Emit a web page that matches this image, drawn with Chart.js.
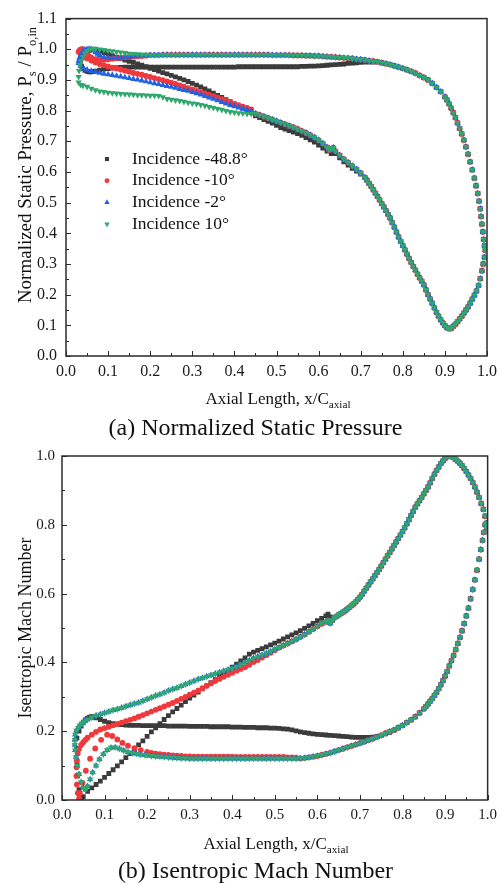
<!DOCTYPE html>
<html>
<head>
<meta charset="utf-8">
<script src="https://cdn.jsdelivr.net/npm/chart.js@4.4.1/dist/chart.umd.min.js"></script>
<style>
  body { margin: 0; background: #fff; }
  #page { position: relative; width: 503px; height: 883px; overflow: hidden; background: #fff; }
  canvas { position: absolute; left: 0; }
  .caption { position: absolute; left: 4px; width: 503px; text-align: center; font: 24px "Liberation Serif", serif; color: #111; line-height: 28px; }
</style>
</head>
<body>
<div id="page">
  <canvas id="pressure" width="503" height="440" style="top:0"></canvas>
  <canvas id="mach" width="503" height="443" style="top:440px"></canvas>
  <div class="caption" style="top:413px">(a) Normalized Static Pressure</div>
  <div class="caption" style="top:856px">(b) Isentropic Mach Number</div>
</div>
<script>
// sampling positions along x/C_axial, every 0.01
const X_STEP = [0.10,0.11,0.12,0.13,0.14,0.15,0.16,0.17,0.18,0.19,
  0.20,0.21,0.22,0.23,0.24,0.25,0.26,0.27,0.28,0.29,
  0.30,0.31,0.32,0.33,0.34,0.35,0.36,0.37,0.38,0.39,
  0.40,0.41,0.42,0.43,0.44,0.45,0.46,0.47,0.48,0.49,
  0.50,0.51,0.52,0.53,0.54,0.55,0.56,0.57,0.58,0.59,
  0.60,0.61,0.62,0.63,0.64,0.65,0.66,0.67,0.68,0.69,
  0.70,0.71,0.72,0.73,0.74,0.75,0.76,0.77,0.78,0.79,
  0.80,0.81,0.82,0.83,0.84,0.85,0.86,0.87,0.88,0.89,0.90];
const grid = (a, b) => X_STEP.filter(x => x >= a - 1e-9 && x <= b + 1e-9);

const LABELS = ['Incidence -48.8°', 'Incidence -10°', 'Incidence -2°', 'Incidence 10°'];

// ---------- (a) static pressure, Ps / Po,in ----------
// pressure side, shared by -10, -2 and 10 deg from x = 0.20
const PS_AFT_X = [...grid(0.20, 0.90), 0.905,0.91,0.915,0.92,0.925,0.93,0.935,0.94,0.945,0.95,0.955,0.96,0.965,0.97,0.974,0.978,0.981,0.984,0.986,0.988,0.990,0.992,0.994,0.996];
const PS_AFT_Y = [.981,.981,.981,.982,.982,.982,.982,.982,.982,.982,
  .982,.982,.982,.982,.982,.982,.982,.982,.982,.982,
  .982,.982,.982,.982,.982,.982,.982,.982,.982,.981,
  .981,.981,.981,.981,.980,.980,.980,.979,.979,.978,
  .978,.977,.976,.975,.974,.973,.972,.971,.970,.968,
  .967,.965,.963,.961,.959,.956,.953,.950,.946,.942,
  .938,.933,.928,.922,.915,.908,.900,.889,.876,.862,
  .845,.835,.822,.808,.793,.777,.760,.742,.724,.704,.682,.658,.633,.607,.580,.555,.530,.505,.480,.455,.430,.405,.380,.360,.345];
// suction side middle, shared by -10, -2 and 10 deg
const SS_MID_X = [0.45,0.46,0.47,0.48,0.49,0.50,0.51,0.52,0.53,0.54,0.55,0.56,0.57,0.58,0.59,0.60,0.61,0.62,0.625,0.63,0.635,0.64,0.65,0.66,0.67,0.68,0.69,0.70];
const SS_MID_Y = [.790,.786,.781,.776,.771,.766,.761,.756,.751,.746,.740,.734,.728,.721,.713,.704,.693,.681,.672,.675,.679,.668,.655,.642,.631,.620,.609,.597];
// suction side rear part, shared by all four
const SS_AFT_X = [0.71,0.715,0.72,0.725,0.73,0.735,0.74,0.745,0.75,0.755,0.76,0.765,0.77,0.775,0.78,0.785,0.79,0.795,
  0.80,0.805,0.81,0.815,0.82,0.825,0.83,0.835,0.84,0.845,0.85,0.855,0.86,0.865,0.87,0.875,0.88,0.885,0.89,0.895,
  0.90,0.905,0.91,0.915,0.92,0.925,0.93,0.935,0.94,0.945,0.95,0.955,0.96,0.965,0.97,0.975,0.98,0.984,0.988,0.991,0.994,0.997,0.999];
const SS_AFT_Y = [.582,.573,.563,.553,.542,.531,.520,.509,.497,.486,.474,.462,.450,.435,.420,.404,.388,.374,
  .360,.346,.332,.318,.305,.292,.280,.267,.255,.244,.232,.216,.200,.186,.172,.157,.142,.130,.118,.108,
  .099,.092,.089,.090,.097,.104,.112,.121,.130,.140,.150,.160,.172,.185,.198,.212,.230,.252,.278,.300,.322,.345,.360];

const BK_PS_X = [0.033,0.037,0.040,0.045,0.050,0.055,0.060,0.065,0.070,0.080,0.090, ...grid(0.10, 0.73)];
const BK_PS_Y = [.955,.945,.937,.931,.928,.926,.926,.927,.929,.932,.935,
  .937,.939,.940,.941,.942,.942,.942,.942,.942,.942,
  .942,.942,.942,.942,.942,.942,.942,.942,.942,.942,
  .942,.942,.942,.942,.942,.942,.942,.942,.942,.942,
  .942,.943,.943,.943,.943,.943,.943,.943,.943,.943,
  .943,.943,.943,.943,.943,.943,.944,.944,.945,.945,
  .946,.947,.948,.949,.950,.951,.952,.954,.955,.956,
  .957,.958,.958,.958];
const BK_SS_X = [0.035,0.040,0.045,0.050,0.055,0.060,0.070,0.080,0.090, ...grid(0.10, 0.63), 0.635,0.64,0.65,0.66,0.67,0.68,0.69,0.70];
const BK_SS_Y = [.965,.975,.985,.992,.996,.998,.998,.994,.989,
  .984,.979,.974,.970,.965,.961,.957,.952,.948,.943,
  .938,.934,.929,.924,.920,.915,.910,.905,.900,.895,
  .889,.883,.877,.871,.864,.857,.850,.843,.836,.829,
  .822,.815,.808,.801,.794,.783,.777,.771,.765,.759,
  .752,.745,.740,.735,.730,.725,.719,.712,.705,.697,
  .688,.678,.668,.660,
  .666,.660,.646,.633,.622,.612,.603,.593];

const RD_PS_X = [0.030,0.033,0.037,0.040,0.045,0.050,0.055,0.060,0.070,0.080,0.090, ...grid(0.10, 0.19)];
const RD_PS_Y = [.992,.998,1.0,1.0,.991,.983,.977,.973,.968,.966,.966, .967,.969,.971,.972,.974,.975,.976,.977,.978,.979];
const RD_SS_X = [0.032,0.035,0.040,0.050,0.060,0.070,0.080,0.090, ...grid(0.10, 0.44)];
const RD_SS_Y = [.990,.985,.978,.970,.963,.957,.952,.948,
  .944,.940,.937,.934,.930,.927,.923,.920,.917,.913,
  .910,.906,.903,.899,.895,.891,.887,.882,.878,.873,
  .869,.864,.860,.856,.851,.847,.842,.837,.832,.827,
  .822,.818,.813,.809,.804];

const BL_PS_X = [0.030,0.032,0.035,0.040,0.045,0.050,0.055,0.060,0.065,0.070,0.075,0.080,0.090, ...grid(0.10, 0.19)];
const BL_PS_Y = [.962,.972,.982,.992,.998,1.0,1.001,1.0,.996,.990,.985,.981,.975, .972,.971,.972,.973,.975,.976,.977,.978,.979,.980];
const BL_SS_X = [0.030,0.035,0.040,0.050,0.060,0.070,0.080,0.090, ...grid(0.10, 0.44)];
const BL_SS_Y = [.955,.945,.938,.933,.929,.926,.923,.920,
  .918,.916,.913,.911,.908,.906,.903,.901,.898,.895,
  .892,.889,.886,.883,.880,.877,.874,.870,.867,.864,
  .860,.856,.852,.847,.842,.838,.833,.828,.823,.818,
  .814,.810,.806,.802,.798];

const GN_PS_X = [0.033,0.036,0.040,0.045,0.050,0.057,0.065,0.070,0.080,0.090, ...grid(0.10, 0.19)];
const GN_PS_Y = [.949,.962,.975,.987,.995,1.0,1.002,1.002,1.0,.998, .996,.994,.992,.990,.988,.986,.985,.984,.983,.983];
const GN_SS_X = [0.031,0.030,0.030,0.035,0.040,0.050,0.060,0.070,0.080,0.090, ...grid(0.10, 0.44)];
const GN_SS_Y = [.930,.910,.892,.884,.882,.878,.872,.867,.863,.861,
  .859,.857,.856,.855,.854,.853,.852,.851,.851,.850,
  .849,.849,.848,.844,.838,.836,.834,.832,.829,.826,
  .824,.822,.819,.816,.812,.809,.806,.803,.799,.796,
  .794,.792,.791,.790,.790];

// ---------- (b) isentropic Mach number ----------
const MA_SS_AFT_X = [...grid(0.45, 0.62), 0.625,0.63,0.635,
  0.64,0.645,0.65,0.655,0.66,0.665,0.67,0.675,0.68,0.685,0.69,0.695,
  0.70,0.705,0.71,0.715,0.72,0.725,0.73,0.735,0.74,0.745,0.75,0.755,0.76,0.765,0.77,0.775,0.78,0.785,0.79,0.795,
  0.80,0.805,0.81,0.815,0.82,0.825,0.83,0.835,0.84,0.845,0.85,0.855,0.86,0.865,0.87,0.875,0.88,0.885,0.89,0.895,
  0.90,0.905,0.91,0.915,0.92,0.925,0.93,0.935,0.94,0.945,0.95,0.955,0.96,0.965,0.97,0.975,0.98,0.985,0.99,0.994,0.997,0.999];
const MA_SS_AFT_Y = [.412,.417,.422,.427,.432,
  .438,.443,.449,.455,.461,.467,.474,.481,.489,.497,
  .505,.512,.518, .522,.514,.522,
  .530,.534,.538,.542,.546,.550,.555,.560,.565,.570,.576,.583,
  .590,.598,.607,.616,.625,.634,.643,.652,.661,.670,.680,.690,.700,.710,.720,.730,.740,.750,.760,.770,
  .780,.791,.803,.815,.827,.839,.851,.861,.870,.880,.890,.900,.910,.922,.935,.947,.958,.968,.978,.986,
  .993,.998,1.0,.998,.995,.990,.985,.979,.972,.964,.955,.945,.935,.923,.910,.895,.880,.862,.845,.825,.805,.790];
const MA_PS_AFT_X = [...grid(0.20, 0.85), 0.855,0.86,0.865,0.87,0.875,0.88,0.885,0.89,0.895,
  0.90,0.905,0.91,0.915,0.92,0.925,0.93,0.935,0.94,0.945,0.95,0.955,0.96,0.965,0.97,0.975,0.98,0.984,0.988,0.991,0.994];
const MA_PS_AFT_Y = [.130,.128,.127,.126,.125,.124,.123,.122,.121,.121,
  .120,.120,.120,.120,.120,.120,.120,.120,.120,.120,
  .120,.120,.120,.120,.120,.120,.120,.120,.120,.120,
  .120,.120,.120,.120,.120,.120,.121,.122,.124,.126,
  .128,.131,.134,.137,.141,.145,.149,.153,.157,.161,
  .165,.169,.174,.178,.183,.188,.194,.199,.203,.210,
  .217,.225,.233,.242,.253,.265, .272,.279,.287,.295,.304,.313,.324,.335,.347,
  .360,.374,.390,.405,.420,.437,.455,.473,.492,.513,.535,.558,.585,.612,.640,.668,.700,.728,.755,.778,.800];

const BK_MA_PS_X = [0.040,0.037,0.035,0.034,0.035,0.040,0.045,0.050,0.055,0.060,0.065,0.070,0.075,0.080,0.090, ...grid(0.10, 0.77)];
const BK_MA_PS_Y = [.030,.070,.110,.150,.180,.200,.215,.225,.233,.238,.241,.242,.241,.239,.234,
  .229,.225,.222,.220,.219,.218,.217,.217,.217,.216,
  .216,.216,.216,.216,.216,.215,.215,.215,.215,.215,
  .214,.214,.214,.214,.214,.213,.213,.213,.213,.213,
  .212,.212,.212,.211,.211,.211,.210,.210,.210,.209,
  .209,.208,.207,.206,.204,.201,.198,.196,.194,.192,
  .191,.190,.189,.188,.187,.186,.185,.184,.183,.182,
  .182,.182,.182,.183,.185,.188,.192,.197];
const BK_MA_SS_X = [0.042,0.045,0.050,0.060,0.070,0.080,0.090, ...grid(0.10, 0.62), 0.625,0.63,0.635];
const BK_MA_SS_Y = [.000,.003,.010,.025,.035,.045,.055,
  .066,.077,.088,.099,.111,.123,.135,.147,.160,.172,
  .185,.198,.210,.222,.234,.245,.256,.266,.276,.286,
  .296,.305,.314,.323,.332,.341,.350,.359,.368,.377,
  .386,.395,.404,.413,.424,.430,.435,.440,.445,.451,
  .456,.462,.468,.474,.480,.486,.492,.499,.506,.513,
  .521,.528,.535, .540,.532,.528];

const RD_MA_PS_X = [0.042,0.048,0.056,0.066,0.078,0.092,0.106,0.118,0.130,0.142,0.155,0.170,0.185, ...grid(0.20, 0.55)];
const RD_MA_PS_Y = [.020,.050,.085,.120,.150,.175,.190,.186,.176,.166,.158,.151,.145,
  .140,.137,.135,.133,.132,.131,.130,.129,.128,.127,
  .127,.126,.126,.126,.126,.126,.126,.126,.126,.126,
  .126,.125,.125,.125,.125,.125,.125,.125,.125,.125,
  .125,.125,.125,.124,.124,.123];
const RD_MA_SS_X = [0.040,0.037,0.035,0.034,0.034,0.035,0.037,0.040,0.045,0.050,0.055,0.060,0.070,0.080,0.090, ...grid(0.10, 0.50)];
const RD_MA_SS_Y = [.005,.020,.045,.070,.095,.115,.135,.148,.160,.168,.175,.181,.190,.198,.205,
  .209,.213,.217,.221,.225,.229,.233,.237,.242,.247,
  .252,.257,.262,.267,.272,.277,.282,.288,.294,.300,
  .306,.312,.318,.325,.332,.339,.346,.352,.358,.364,
  .370,.376,.381,.386,.393,.401,.407,.414,.421,.428,
  .435];

// -2 and 10 deg coincide in Mach number
const BG_MA_PS_X = [0.030,0.031,0.033,0.036,0.040,0.045,0.050,0.055,0.060,0.066,0.072,0.080,0.088,0.097,0.106,0.115,0.125,0.135,0.145,0.155,0.165,0.175,0.185,0.195];
const BG_MA_PS_Y = [.160,.145,.125,.100,.075,.052,.036,.030,.040,.060,.080,.100,.118,.133,.145,.152,.153,.149,.144,.139,.136,.134,.132,.131];
const BG_MA_SS_X = [0.030,0.031,0.034,0.038,0.042,0.047,0.053,0.060,0.070,0.080,0.090, ...grid(0.10, 0.44)];
const BG_MA_SS_Y = [.175,.190,.202,.210,.217,.223,.229,.234,.240,.245,.249,
  .253,.257,.261,.264,.268,.272,.276,.280,.283,.288,
  .293,.298,.303,.307,.312,.318,.322,.326,.331,.336,
  .341,.346,.351,.355,.359,.363,.367,.371,.375,.379,
  .383,.388,.394,.400,.406];

// ---------- helpers ----------
const pts = (xs, ys) => xs.map((x, i) => ({x, y: ys[i]}));
const from = (xs, ys, x0) => pts(xs, ys).filter(p => p.x >= x0 - 1e-9);

const SERIF = '"Liberation Serif", "Times New Roman", serif';
const COLORS = ['#3b3b3b', '#f0393c', '#1f63e4', '#2fa86d'];
const STYLES = [['rect', 0, 3.4], ['circle', 0, 2.9], ['triangle', 0, 3.7], ['triangle', 180, 3.7]];

function series(i, data) {
  const [style, rot, r] = STYLES[i];
  return {
    label: LABELS[i], data,
    backgroundColor: COLORS[i], borderColor: COLORS[i], borderWidth: 0,
    pointStyle: style, pointRotation: rot, pointRadius: r,
    showLine: false, order: 4 - i
  };
}

// inward ticks and closed frame, as in the original plots
const boxTicks = {
  id: 'boxTicks',
  afterDatasetsDraw(chart, args, o) {
    const {ctx, chartArea: a} = chart;
    const sx = chart.scales.x, sy = chart.scales.y;
    ctx.save();
    ctx.strokeStyle = '#2b2b2b';
    ctx.lineWidth = 1;
    ctx.beginPath();
    for (let i = 0; sx.min + i * o.xMinor <= sx.max + 1e-9; i++) {
      const px = Math.round(sx.getPixelForValue(sx.min + i * o.xMinor)) + 0.5;
      ctx.moveTo(px, a.bottom);
      ctx.lineTo(px, a.bottom - (i % 2 === 0 ? 5 : 3));
    }
    for (let i = 0; sy.min + i * o.yMinor <= sy.max + 1e-9; i++) {
      const py = Math.round(sy.getPixelForValue(sy.min + i * o.yMinor)) + 0.5;
      ctx.moveTo(a.left, py);
      ctx.lineTo(a.left + (i % 2 === 0 ? 5 : 3), py);
    }
    ctx.stroke();
    ctx.lineWidth = 1.5;
    ctx.strokeRect(a.left, a.top, a.right - a.left, a.bottom - a.top);
    ctx.restore();
  }
};

// axis titles with subscripts
const richTitles = {
  id: 'richTitles',
  afterDraw(chart, args, o) {
    const ctx = chart.ctx;
    const draw = (t, rotate) => {
      ctx.save();
      ctx.translate(t.at[0], t.at[1]);
      if (rotate) ctx.rotate(-Math.PI / 2);
      ctx.fillStyle = '#111';
      ctx.textBaseline = 'alphabetic';
      const font = p => `${p.sub ? t.size * 0.66 : t.size}px ${SERIF}`;
      let w = 0;
      t.parts.forEach(p => { ctx.font = font(p); w += ctx.measureText(p.text).width; });
      let x = -w / 2;
      t.parts.forEach(p => {
        ctx.font = font(p);
        ctx.fillText(p.text, x, t.size * 0.33 + (p.sub ? t.size * 0.25 : 0));
        x += ctx.measureText(p.text).width;
      });
      ctx.restore();
    };
    draw(o.x, false);
    draw(o.y, true);
  }
};

// legend placed inside the plot
const markerLegend = {
  id: 'markerLegend',
  afterDraw(chart, args, o) {
    const ctx = chart.ctx;
    ctx.save();
    ctx.font = `${o.size}px ${SERIF}`;
    ctx.textBaseline = 'middle';
    chart.data.datasets.forEach((ds, i) => {
      const y = o.top + i * o.gap;
      ctx.fillStyle = ds.backgroundColor;
      ctx.strokeStyle = ds.backgroundColor;
      Chart.helpers.drawPoint(ctx, {pointStyle: ds.pointStyle, rotation: ds.pointRotation, radius: ds.pointRadius * 0.85, borderWidth: 0}, o.markerX, y);
      ctx.fillStyle = '#111';
      ctx.fillText(ds.label, o.textX, y);
    });
    ctx.restore();
  }
};

function makeChart(id, datasets, cfg) {
  const tickFont = {family: SERIF, size: cfg.tickSize};
  return new Chart(document.getElementById(id), {
    type: 'scatter',
    data: {datasets},
    plugins: [boxTicks, richTitles, markerLegend],
    options: {
      responsive: false,
      animation: false,
      events: [],
      layout: {padding: {top: 15, right: 14, left: 0, bottom: 0}},
      scales: {
        x: {
          type: 'linear', min: 0, max: 1,
          afterFit: s => { s.height = cfg.xHeight; },
          grid: {display: false, drawTicks: false},
          border: {display: false},
          ticks: {stepSize: 0.1, padding: cfg.xPad, color: '#1a1a1a', font: tickFont, maxRotation: 0, autoSkip: false,
                  callback: v => v.toFixed(1)}
        },
        y: {
          type: 'linear', min: 0, max: cfg.yMax,
          afterFit: s => { s.width = cfg.yWidth; },
          grid: {display: false, drawTicks: false},
          border: {display: false},
          ticks: {stepSize: cfg.yStep, padding: cfg.yPad, color: '#1a1a1a', font: tickFont, autoSkip: false,
                  callback: v => v.toFixed(1)}
        }
      },
      plugins: {
        legend: {display: false},
        tooltip: {enabled: false},
        boxTicks: {xMinor: 0.05, yMinor: cfg.yStep / 2},
        richTitles: cfg.titles,
        markerLegend: cfg.legend
      }
    }
  });
}

const pressureSets = [
  series(0, [...pts(BK_PS_X, BK_PS_Y), ...from(PS_AFT_X, PS_AFT_Y, 0.74), ...pts(BK_SS_X, BK_SS_Y), ...pts(SS_AFT_X, SS_AFT_Y)]),
  series(1, [...pts(RD_PS_X, RD_PS_Y), ...pts(PS_AFT_X, PS_AFT_Y), ...pts(RD_SS_X, RD_SS_Y), ...pts(SS_MID_X, SS_MID_Y), ...pts(SS_AFT_X, SS_AFT_Y)]),
  series(2, [...pts(BL_PS_X, BL_PS_Y), ...pts(PS_AFT_X, PS_AFT_Y), ...pts(BL_SS_X, BL_SS_Y), ...pts(SS_MID_X, SS_MID_Y), ...pts(SS_AFT_X, SS_AFT_Y)]),
  series(3, [...pts(GN_PS_X, GN_PS_Y), ...pts(PS_AFT_X, PS_AFT_Y), ...pts(GN_SS_X, GN_SS_Y), ...pts(SS_MID_X, SS_MID_Y), ...pts(SS_AFT_X, SS_AFT_Y)])
];

const machSets = [
  series(0, [...pts(BK_MA_PS_X, BK_MA_PS_Y), ...from(MA_PS_AFT_X, MA_PS_AFT_Y, 0.78), ...pts(BK_MA_SS_X, BK_MA_SS_Y), ...from(MA_SS_AFT_X, MA_SS_AFT_Y, 0.64)]),
  series(1, [...pts(RD_MA_PS_X, RD_MA_PS_Y), ...from(MA_PS_AFT_X, MA_PS_AFT_Y, 0.56), ...pts(RD_MA_SS_X, RD_MA_SS_Y), ...from(MA_SS_AFT_X, MA_SS_AFT_Y, 0.51)]),
  series(2, [...pts(BG_MA_PS_X, BG_MA_PS_Y), ...pts(MA_PS_AFT_X, MA_PS_AFT_Y), ...pts(BG_MA_SS_X, BG_MA_SS_Y), ...pts(MA_SS_AFT_X, MA_SS_AFT_Y)]),
  series(3, [...pts(BG_MA_PS_X, BG_MA_PS_Y), ...pts(MA_PS_AFT_X, MA_PS_AFT_Y), ...pts(BG_MA_SS_X, BG_MA_SS_Y), ...pts(MA_SS_AFT_X, MA_SS_AFT_Y)])
];

makeChart('pressure', pressureSets, {
  yMax: 1.1, yStep: 0.1, yWidth: 66, xHeight: 84, tickSize: 16, xPad: 6, yPad: 9,
  titles: {
    x: {at: [278, 398], size: 17, parts: [{text: 'Axial Length, x/C'}, {text: 'axial', sub: true}]},
    y: {at: [25, 165], size: 19, parts: [{text: 'Normalized Static Pressure, P'}, {text: 's', sub: true}, {text: ' / P'}, {text: 'o,in', sub: true}]}
  },
  legend: {markerX: 107, textX: 132, top: 159, gap: 21.7, size: 17.5}
});

makeChart('mach', machSets, {
  yMax: 1.0, yStep: 0.2, yWidth: 62, xHeight: 83, tickSize: 15, xPad: 6, yPad: 7,
  titles: {
    x: {at: [276, 403], size: 17, parts: [{text: 'Axial Length, x/C'}, {text: 'axial', sub: true}]},
    y: {at: [25, 188], size: 18, parts: [{text: 'Isentropic Mach Number'}]}
  },
  legend: {markerX: 88, textX: 113, top: 511, gap: 22, size: 17.5}
});
</script>
</body>
</html>
